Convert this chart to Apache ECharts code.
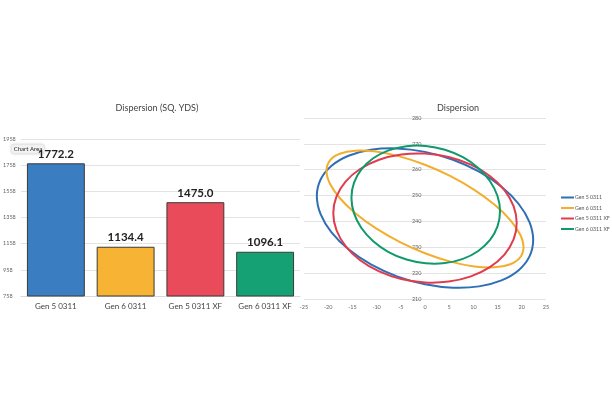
<!DOCTYPE html>
<html>
<head>
<meta charset="utf-8">
<script src="https://cdn.jsdelivr.net/npm/echarts@6/dist/echarts.min.js"></script>
<style>
html,body{margin:0;padding:0;background:#fff;}
#c{width:612px;height:408px;}
</style>
</head>
<body>
<div id="c"></div>
<script>
// ---- data ----
const categories = ['Gen 5 0311', 'Gen 6 0311', 'Gen 5 0311 XF', 'Gen 6 0311 XF'];
const barValues = [1772.2, 1134.4, 1475.0, 1096.1];
const barTicks = [758, 958, 1158, 1358, 1558, 1758, 1958];
const colors = ['#3A7EC1', '#F7B334', '#E94B5B', '#16A175'];
const lineColors = ['#2F6FB5', '#F2AE2E', '#E03C4E', '#10996B'];

// ellipse outlines: [x, y] points (closed loop)
const gen5 = [[22.35,232.8],[21.59,239.72],[19.36,246.74],[15.80,253.39],[11.18,259.22],[5.78,263.83],[0,266.9],[-5.78,268.23],[-11.18,267.72],[-15.80,265.41],[-19.36,261.46],[-21.59,256.14],[-22.35,249.8],[-21.59,242.88],[-19.36,235.86],[-15.80,229.21],[-11.18,223.38],[-5.78,218.77],[0,215.7],[5.78,214.37],[11.18,214.88],[15.80,217.19],[19.36,221.14],[21.59,226.46]];
const gen6 = [[20.35,230.0],[19.66,234.93],[17.62,240.53],[14.39,246.42],[10.18,252.21],[5.27,257.49],[0,261.9],[-5.27,265.15],[-10.18,267.01],[-14.39,267.36],[-17.62,266.17],[-19.66,263.53],[-20.35,259.6],[-19.66,254.67],[-17.62,249.07],[-14.39,243.18],[-10.18,237.39],[-5.27,232.11],[0,227.7],[5.27,224.45],[10.18,222.59],[14.39,222.24],[17.62,223.43],[19.66,226.07]];
const gen5xf = [[18.95,239.4],[18.30,245.92],[16.41,252.13],[13.40,257.59],[9.48,261.94],[4.90,264.89],[0,266.23],[-4.90,265.87],[-9.48,263.84],[-13.40,260.27],[-16.41,255.42],[-18.30,249.59],[-18.95,243.2],[-18.30,236.69],[-16.41,230.48],[-13.40,225.01],[-9.48,220.66],[-4.90,217.71],[0,216.37],[4.90,216.73],[9.48,218.76],[13.40,222.33],[16.41,227.19],[18.30,233.02]];
const gen6xf = [[15.50,243.85],[14.98,249.82],[13.44,255.56],[11.00,260.68],[7.83,264.84],[4.12,267.74],[0.15,269.2],[-3.82,269.12],[-7.53,267.49],[-10.70,264.42],[-13.14,260.15],[-14.68,254.94],[-15.20,249.15],[-14.68,243.19],[-13.14,237.45],[-10.70,232.32],[-7.53,228.17],[-3.82,225.26],[0.15,223.8],[4.12,223.88],[7.83,225.52],[11.00,228.58],[13.44,232.86],[14.98,238.07]];
const ellipses = [gen5, gen6, gen5xf, gen6xf];

const font = 'Lato, "Open Sans", sans-serif';
const chart = echarts.init(document.getElementById('c'), null, {renderer: 'canvas'});

// closed Catmull-Rom curve through the data points, mapped by the axes
function closedCurve(pts) {
  const n = pts.length;
  let d = 'M' + pts[0][0] + ' ' + pts[0][1];
  for (let i = 0; i < n; i++) {
    const p0 = pts[(i - 1 + n) % n], p1 = pts[i], p2 = pts[(i + 1) % n], p3 = pts[(i + 2) % n];
    const c1x = p1[0] + (p2[0] - p0[0]) / 6, c1y = p1[1] + (p2[1] - p0[1]) / 6;
    const c2x = p2[0] - (p3[0] - p1[0]) / 6, c2y = p2[1] - (p3[1] - p1[1]) / 6;
    d += ' C' + c1x + ' ' + c1y + ' ' + c2x + ' ' + c2y + ' ' + p2[0] + ' ' + p2[1];
  }
  return d + ' Z';
}

const ellipseSeries = ellipses.map((pts, i) => ({
  name: categories[i],
  type: 'custom',
  coordinateSystem: 'cartesian2d',
  xAxisIndex: 1, yAxisIndex: 1,
  data: pts,
  itemStyle: {color: lineColors[i]},
  renderItem: function (params, api) {
    if (params.dataIndex !== 0) return null;
    const px = pts.map(p => api.coord(p));
    return {
      type: 'path',
      shape: {pathData: closedCurve(px)},
      style: {fill: 'none', stroke: lineColors[i], lineWidth: 2}
    };
  },
  animation: false
}));

chart.setOption({
  animation: false,
  textStyle: {fontFamily: font},
  title: [
    {text: 'Dispersion (SQ. YDS)', left: 152, top: 99, textAlign: 'center',
     textStyle: {fontSize: 9, fontWeight: 'normal', color: '#444', fontFamily: font}},
    {text: 'Dispersion', left: 453, top: 99, textAlign: 'center',
     textStyle: {fontSize: 9, fontWeight: 'normal', color: '#444', fontFamily: font}}
  ],
  legend: {
    orient: 'vertical', left: 556, top: 190, itemGap: 5.5,
    itemWidth: 13, itemHeight: 2, icon: 'rect',
    textStyle: {fontSize: 5.2, color: '#555', padding: [0, 0, 0, -4]},
    data: categories.map((c, i) => ({name: c, itemStyle: {color: lineColors[i]}}))
  },
  grid: [
    {left: 20, right: 312, top: 139, bottom: 112},
    {left: 304, right: 66, top: 118, bottom: 109}
  ],
  xAxis: [
    {type: 'category', gridIndex: 0, data: categories,
     axisLine: {lineStyle: {color: '#d9d9d9'}}, axisTick: {show: false},
     axisLabel: {fontSize: 8, color: '#444', margin: 6}},
    {type: 'value', gridIndex: 1, min: -25, max: 25, interval: 5,
     axisLine: {show: false}, axisTick: {show: false}, splitLine: {show: false},
     axisLabel: {fontSize: 5.5, color: '#666', margin: 5}}
  ],
  yAxis: [
    {type: 'value', gridIndex: 0, min: barTicks[0], max: barTicks[barTicks.length - 1], interval: 200,
     axisLine: {show: false}, axisTick: {show: false},
     splitLine: {lineStyle: {color: '#e3e3e3'}},
     axisLabel: {fontSize: 5.5, color: '#666', margin: 4, align: 'left', padding: [0, 0, 0, -14],
                 formatter: v => String(v)}},
    {type: 'value', gridIndex: 1, min: 210, max: 280, interval: 10, offset: -121.5,
     axisLine: {show: false, onZero: false}, axisTick: {show: false},
     splitLine: {lineStyle: {color: '#e3e3e3'}},
     axisLabel: {fontSize: 5.5, color: '#666', margin: 4, formatter: v => String(v)}}
  ],
  series: [
    {type: 'bar', xAxisIndex: 0, yAxisIndex: 0,
     data: barValues.map((v, i) => ({value: v, itemStyle: {color: colors[i]}})),
     barCategoryGap: '17%',
     itemStyle: {borderColor: '#3a3a3a', borderWidth: 1},
     label: {show: true, position: 'top', distance: 3, fontSize: 11.5, fontWeight: 'bold', color: '#222',
             formatter: p => p.value.toFixed(1)}},
    ...ellipseSeries
  ],
  graphic: [
    {type: 'group', left: 11, top: 144, children: [
      {type: 'rect', shape: {x: 0, y: 0, width: 33, height: 9.5, r: 2},
       style: {fill: '#f4f4f4', stroke: '#dcdcdc', lineWidth: 0.5, shadowBlur: 3, shadowColor: 'rgba(0,0,0,0.15)'}},
      {type: 'text', x: 2.5, y: 2, style: {text: 'Chart Area', fontSize: 6, fill: '#222', fontFamily: font}}
    ]}
  ]
});
</script>
</body>
</html>
